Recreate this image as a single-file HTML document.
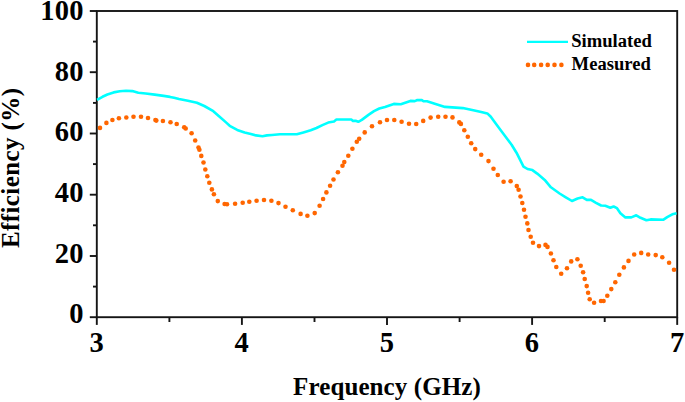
<!DOCTYPE html>
<html><head><meta charset="utf-8"><style>
html,body{margin:0;padding:0;background:#fff;}
svg{display:block;}
.t{font-family:"Liberation Serif", serif;font-weight:bold;font-size:28.5px;letter-spacing:0.3px;fill:#000;}
.ax{font-family:"Liberation Serif", serif;font-weight:bold;font-size:25px;fill:#000;}
.lg{font-family:"Liberation Serif", serif;font-weight:bold;font-size:18.6px;fill:#000;}
</style></head><body>
<svg width="685" height="402" viewBox="0 0 685 402">
<rect x="96.8" y="11.0" width="580.4" height="306.2" fill="none" stroke="#151515" stroke-width="1.9"/>
<line x1="96.8" y1="317.2" x2="96.8" y2="324.9" stroke="#151515" stroke-width="1.9" stroke-linecap="butt"/>
<line x1="169.4" y1="317.2" x2="169.4" y2="322.0" stroke="#151515" stroke-width="1.9" stroke-linecap="butt"/>
<line x1="241.9" y1="317.2" x2="241.9" y2="324.9" stroke="#151515" stroke-width="1.9" stroke-linecap="butt"/>
<line x1="314.5" y1="317.2" x2="314.5" y2="322.0" stroke="#151515" stroke-width="1.9" stroke-linecap="butt"/>
<line x1="387.0" y1="317.2" x2="387.0" y2="324.9" stroke="#151515" stroke-width="1.9" stroke-linecap="butt"/>
<line x1="459.6" y1="317.2" x2="459.6" y2="322.0" stroke="#151515" stroke-width="1.9" stroke-linecap="butt"/>
<line x1="532.1" y1="317.2" x2="532.1" y2="324.9" stroke="#151515" stroke-width="1.9" stroke-linecap="butt"/>
<line x1="604.7" y1="317.2" x2="604.7" y2="322.0" stroke="#151515" stroke-width="1.9" stroke-linecap="butt"/>
<line x1="677.2" y1="317.2" x2="677.2" y2="324.9" stroke="#151515" stroke-width="1.9" stroke-linecap="butt"/>
<line x1="96.8" y1="317.2" x2="89.8" y2="317.2" stroke="#151515" stroke-width="1.9"/>
<line x1="96.8" y1="286.6" x2="93.0" y2="286.6" stroke="#151515" stroke-width="1.9"/>
<line x1="96.8" y1="256.0" x2="89.8" y2="256.0" stroke="#151515" stroke-width="1.9"/>
<line x1="96.8" y1="225.3" x2="93.0" y2="225.3" stroke="#151515" stroke-width="1.9"/>
<line x1="96.8" y1="194.7" x2="89.8" y2="194.7" stroke="#151515" stroke-width="1.9"/>
<line x1="96.8" y1="164.1" x2="93.0" y2="164.1" stroke="#151515" stroke-width="1.9"/>
<line x1="96.8" y1="133.5" x2="89.8" y2="133.5" stroke="#151515" stroke-width="1.9"/>
<line x1="96.8" y1="102.9" x2="93.0" y2="102.9" stroke="#151515" stroke-width="1.9"/>
<line x1="96.8" y1="72.2" x2="89.8" y2="72.2" stroke="#151515" stroke-width="1.9"/>
<line x1="96.8" y1="41.6" x2="93.0" y2="41.6" stroke="#151515" stroke-width="1.9"/>
<line x1="96.8" y1="11.0" x2="89.8" y2="11.0" stroke="#151515" stroke-width="1.9"/>
<text x="83.9" y="19.7" text-anchor="end" class="t">100</text>
<text x="83.9" y="81.0" text-anchor="end" class="t">80</text>
<text x="83.9" y="141.4" text-anchor="end" class="t">60</text>
<text x="83.9" y="202.3" text-anchor="end" class="t">40</text>
<text x="83.9" y="263.3" text-anchor="end" class="t">20</text>
<text x="83.9" y="323.3" text-anchor="end" class="t">0</text>
<text x="96.8" y="351.9" text-anchor="middle" class="t" letter-spacing="0">3</text>
<text x="241.9" y="351.9" text-anchor="middle" class="t" letter-spacing="0">4</text>
<text x="387.0" y="351.9" text-anchor="middle" class="t" letter-spacing="0">5</text>
<text x="532.1" y="351.9" text-anchor="middle" class="t" letter-spacing="0">6</text>
<text x="677.2" y="351.9" text-anchor="middle" class="t" letter-spacing="0">7</text>
<text x="387" y="394.7" text-anchor="middle" class="ax" letter-spacing="0.1">Frequency (GHz)</text>
<text transform="translate(18.6,167.8) rotate(-90)" text-anchor="middle" class="ax" letter-spacing="0.4">Efficiency (%)</text>
<path d="M97.0,99.9 L102.5,96.8 L107.4,94.5 L113.6,92.4 L119.8,91.2 L126.0,90.8 L132.3,91.1 L138.3,92.8 L145.7,93.5 L154.7,94.6 L163.7,95.9 L170.0,96.9 L174.1,97.8 L179.0,99.0 L187.9,100.7 L196.9,102.7 L204.3,106.0 L213.3,111.2 L219.3,116.4 L226.0,122.4 L229.7,125.8 L237.2,129.9 L244.6,132.5 L250.8,134.0 L256.0,135.4 L262.5,136.2 L266.9,135.4 L272.0,135.0 L280.0,134.3 L288.8,134.3 L296.8,134.3 L303.4,132.4 L310.7,130.2 L316.5,128.0 L322.4,125.1 L328.2,122.6 L334.0,121.4 L336.4,119.5 L351.3,119.5 L353.0,120.9 L355.6,120.8 L358.3,121.8 L361.8,119.9 L368.8,114.6 L374.0,111.1 L379.3,108.5 L385.0,106.9 L393.8,103.9 L400.8,104.2 L410.4,100.9 L414.8,101.1 L417.4,100.0 L421.8,100.1 L423.5,101.3 L427.0,101.3 L434.0,103.4 L445.0,106.9 L455.8,107.6 L462.8,108.1 L473.3,110.3 L481.2,112.0 L487.3,113.4 L490.8,116.8 L493.7,120.8 L499.6,128.8 L505.6,136.7 L511.6,144.7 L516.5,152.7 L520.5,160.6 L523.5,166.6 L527.5,169.0 L532.4,170.1 L537.2,173.6 L544.7,179.9 L550.9,187.3 L559.6,193.5 L565.8,197.3 L572.0,201.0 L577.6,198.5 L582.6,197.3 L586.8,199.9 L591.0,199.9 L596.0,202.8 L601.1,205.5 L605.3,205.8 L610.3,207.8 L613.6,206.5 L617.0,208.2 L620.4,213.2 L625.4,217.4 L631.3,217.4 L636.3,215.3 L640.5,217.8 L646.4,220.3 L650.6,219.4 L663.5,219.7 L667.2,217.2 L672.3,214.3 L676.6,213.2" fill="none" stroke="#00FFFF" stroke-width="2.6" stroke-linejoin="round"/>
<g fill="#FF6600"><circle cx="100.0" cy="127.9" r="2.3"/><circle cx="106.4" cy="122.9" r="2.3"/><circle cx="112.4" cy="120.0" r="2.3"/><circle cx="118.9" cy="118.3" r="2.3"/><circle cx="126.3" cy="117.5" r="2.3"/><circle cx="133.5" cy="116.7" r="2.3"/><circle cx="141.0" cy="116.7" r="2.3"/><circle cx="148.0" cy="118.0" r="2.3"/><circle cx="155.4" cy="120.0" r="2.3"/><circle cx="156.3" cy="120.6" r="2.3"/><circle cx="162.9" cy="121.0" r="2.3"/><circle cx="170.5" cy="122.3" r="2.3"/><circle cx="176.7" cy="124.0" r="2.3"/><circle cx="184.2" cy="127.3" r="2.3"/><circle cx="185.7" cy="128.5" r="2.3"/><circle cx="191.6" cy="133.3" r="2.3"/><circle cx="195.2" cy="140.5" r="2.3"/><circle cx="198.5" cy="147.5" r="2.3"/><circle cx="199.4" cy="149.8" r="2.3"/><circle cx="201.3" cy="155.9" r="2.3"/><circle cx="203.5" cy="162.5" r="2.3"/><circle cx="205.3" cy="169.5" r="2.3"/><circle cx="207.3" cy="176.2" r="2.3"/><circle cx="209.3" cy="182.8" r="2.3"/><circle cx="211.9" cy="189.4" r="2.3"/><circle cx="213.9" cy="194.3" r="2.3"/><circle cx="217.8" cy="201.1" r="2.3"/><circle cx="224.6" cy="204.0" r="2.3"/><circle cx="227.0" cy="204.3" r="2.3"/><circle cx="235.1" cy="203.7" r="2.3"/><circle cx="242.7" cy="202.7" r="2.3"/><circle cx="249.3" cy="201.7" r="2.3"/><circle cx="256.6" cy="200.7" r="2.3"/><circle cx="264.0" cy="200.0" r="2.3"/><circle cx="271.4" cy="200.7" r="2.3"/><circle cx="278.5" cy="203.1" r="2.3"/><circle cx="285.5" cy="206.7" r="2.3"/><circle cx="292.8" cy="210.2" r="2.3"/><circle cx="300.6" cy="213.9" r="2.3"/><circle cx="307.4" cy="215.8" r="2.3"/><circle cx="314.7" cy="213.1" r="2.3"/><circle cx="319.6" cy="205.8" r="2.3"/><circle cx="323.1" cy="199.0" r="2.3"/><circle cx="326.4" cy="192.4" r="2.3"/><circle cx="330.1" cy="185.8" r="2.3"/><circle cx="333.5" cy="179.5" r="2.3"/><circle cx="337.9" cy="172.2" r="2.3"/><circle cx="342.5" cy="165.7" r="2.3"/><circle cx="344.3" cy="162.1" r="2.3"/><circle cx="348.3" cy="155.7" r="2.3"/><circle cx="352.4" cy="148.8" r="2.3"/><circle cx="356.8" cy="141.8" r="2.3"/><circle cx="359.2" cy="138.8" r="2.3"/><circle cx="364.7" cy="132.4" r="2.3"/><circle cx="372.0" cy="126.3" r="2.3"/><circle cx="380.0" cy="122.2" r="2.3"/><circle cx="387.0" cy="120.0" r="2.3"/><circle cx="394.3" cy="120.0" r="2.3"/><circle cx="401.6" cy="121.7" r="2.3"/><circle cx="409.0" cy="123.8" r="2.3"/><circle cx="416.2" cy="124.0" r="2.3"/><circle cx="423.2" cy="120.9" r="2.3"/><circle cx="430.6" cy="117.6" r="2.3"/><circle cx="438.2" cy="116.7" r="2.3"/><circle cx="445.5" cy="116.8" r="2.3"/><circle cx="452.5" cy="117.4" r="2.3"/><circle cx="459.3" cy="122.4" r="2.3"/><circle cx="460.9" cy="123.9" r="2.3"/><circle cx="464.3" cy="130.2" r="2.3"/><circle cx="467.8" cy="136.7" r="2.3"/><circle cx="471.2" cy="143.3" r="2.3"/><circle cx="475.2" cy="149.1" r="2.3"/><circle cx="481.2" cy="154.8" r="2.3"/><circle cx="488.5" cy="161.1" r="2.3"/><circle cx="493.5" cy="168.8" r="2.3"/><circle cx="497.8" cy="175.0" r="2.3"/><circle cx="503.6" cy="181.8" r="2.3"/><circle cx="510.6" cy="181.3" r="2.3"/><circle cx="516.8" cy="186.1" r="2.3"/><circle cx="518.6" cy="189.8" r="2.3"/><circle cx="520.5" cy="196.5" r="2.3"/><circle cx="522.3" cy="203.0" r="2.3"/><circle cx="524.0" cy="209.7" r="2.3"/><circle cx="525.5" cy="216.7" r="2.3"/><circle cx="527.3" cy="223.4" r="2.3"/><circle cx="528.5" cy="230.0" r="2.3"/><circle cx="530.7" cy="236.8" r="2.3"/><circle cx="533.0" cy="242.8" r="2.3"/><circle cx="539.0" cy="246.1" r="2.3"/><circle cx="545.5" cy="244.9" r="2.3"/><circle cx="547.5" cy="246.9" r="2.3"/><circle cx="550.9" cy="253.5" r="2.3"/><circle cx="553.5" cy="260.2" r="2.3"/><circle cx="556.3" cy="267.0" r="2.3"/><circle cx="561.2" cy="273.8" r="2.3"/><circle cx="567.0" cy="268.2" r="2.3"/><circle cx="571.2" cy="261.4" r="2.3"/><circle cx="577.4" cy="259.3" r="2.3"/><circle cx="580.7" cy="265.8" r="2.3"/><circle cx="583.1" cy="272.2" r="2.3"/><circle cx="584.7" cy="279.0" r="2.3"/><circle cx="586.7" cy="286.1" r="2.3"/><circle cx="588.1" cy="292.7" r="2.3"/><circle cx="589.7" cy="299.3" r="2.3"/><circle cx="594.1" cy="302.8" r="2.3"/><circle cx="601.0" cy="301.0" r="2.3"/><circle cx="603.6" cy="301.0" r="2.3"/><circle cx="607.3" cy="295.7" r="2.3"/><circle cx="611.3" cy="289.1" r="2.3"/><circle cx="615.3" cy="282.3" r="2.3"/><circle cx="619.3" cy="274.8" r="2.3"/><circle cx="623.9" cy="267.4" r="2.3"/><circle cx="628.5" cy="260.9" r="2.3"/><circle cx="634.2" cy="254.5" r="2.3"/><circle cx="641.2" cy="252.9" r="2.3"/><circle cx="648.2" cy="254.5" r="2.3"/><circle cx="655.7" cy="255.1" r="2.3"/><circle cx="662.3" cy="257.3" r="2.3"/><circle cx="669.1" cy="262.8" r="2.3"/><circle cx="674.0" cy="269.8" r="2.3"/></g>
<line x1="527" y1="41.8" x2="568" y2="41.8" stroke="#00FFFF" stroke-width="2.3"/>
<g fill="#FF6600"><circle cx="528" cy="64.9" r="2.3"/><circle cx="534.2" cy="64.9" r="2.3"/><circle cx="541.1" cy="64.9" r="2.3"/><circle cx="547.7" cy="64.9" r="2.3"/><circle cx="554.5" cy="64.9" r="2.3"/><circle cx="561.4" cy="64.9" r="2.3"/></g>
<text x="571.2" y="46.7" class="lg">Simulated</text>
<text x="571.6" y="70.2" class="lg">Measured</text>
</svg>
</body></html>
